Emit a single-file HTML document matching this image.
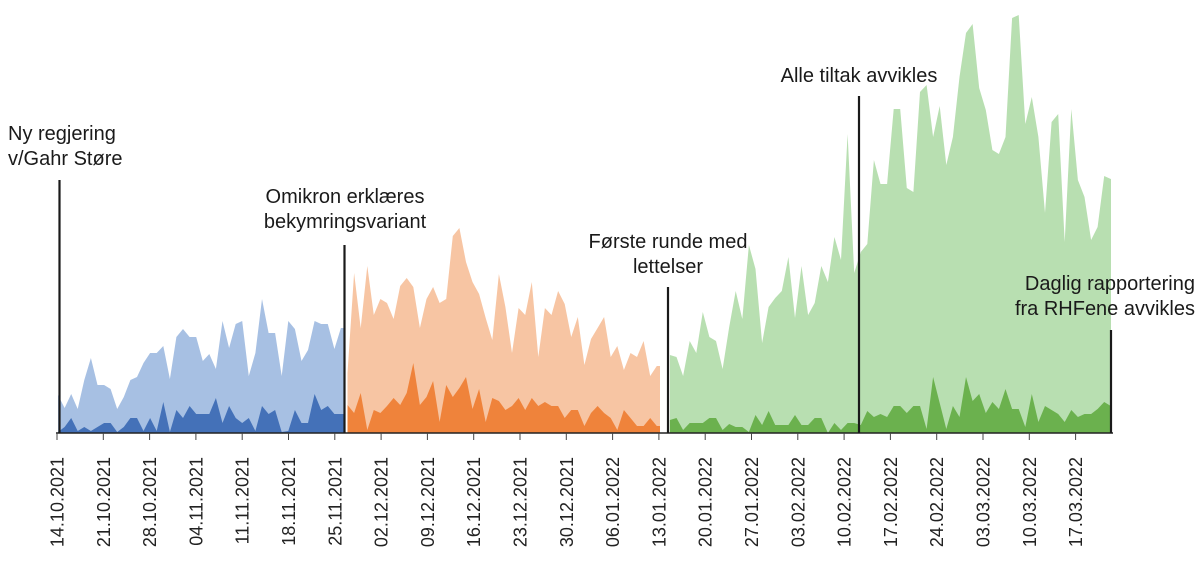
<!DOCTYPE html>
<html><head><meta charset="utf-8"><style>
html,body{margin:0;padding:0;background:#fff;}
svg{display:block;font-family:"Liberation Sans",sans-serif;}
</style></head><body>
<svg id="chart" width="1200" height="565" viewBox="0 0 1200 565" xmlns="http://www.w3.org/2000/svg">
<g id="areas"></g>
<g id="axis"></g>
<g id="annot"></g>
</svg>
<script>
const tickLabels = ["14.10.2021","21.10.2021","28.10.2021","04.11.2021","11.11.2021","18.11.2021","25.11.2021","02.12.2021","09.12.2021","16.12.2021","23.12.2021","30.12.2021","06.01.2022","13.01.2022","20.01.2022","27.01.2022","03.02.2022","10.02.2022","17.02.2022","24.02.2022","03.03.2022","10.03.2022","17.03.2022"];
const blueTotal = [38,25,39,24,53,75,48,48,44,24,36,53,56,70,80,80,87,54,96,104,96,96,72,79,64,112,85,109,112,57,80,134,100,100,57,112,104,72,83,112,109,109,84,105];
const blueSub = [1,6,15,2,6,2,6,10,10,1,6,15,15,2,15,2,31,1,23,15,27,19,19,19,35,10,27,15,10,15,2,27,19,23,1,2,23,10,10,39,23,27,19,19];
const orangeTotal = [60,160,105,167,118,134,130,114,147,155,146,105,134,146,130,134,197,205,171,151,139,115,93,159,126,80,125,118,151,76,125,118,142,129,96,116,68,94,105,116,76,87,63,80,76,92,57,67];
const orangeSub = [28,20,40,3,23,20,27,35,28,40,70,28,36,52,11,48,36,45,56,24,44,11,35,32,23,27,35,23,35,27,31,27,27,15,23,23,7,20,27,20,15,3,23,15,7,7,15,7];
const greenTotal = [78,76,57,92,80,121,96,92,64,106,142,114,188,164,90,126,135,142,176,115,167,118,130,167,151,196,173,299,160,181,189,273,249,249,324,324,245,241,341,348,296,327,268,296,356,400,409,345,323,283,279,296,415,418,309,336,296,220,311,319,191,324,253,236,193,206,257,254];
const greenSub = [13,15,3,10,10,10,15,15,3,9,6,6,1,18,8,22,8,8,8,18,8,8,15,15,0,10,3,10,10,8,22,16,19,16,27,27,20,27,27,4,56,30,4,27,16,56,32,39,20,31,24,44,24,24,6,39,11,27,23,19,11,23,16,19,19,24,31,27];

const NS="http://www.w3.org/2000/svg";
const X0=58, DAY=6.58, BASE=433;
const xDay = d => X0 + d*DAY;
const yVal = v => BASE - v;
const areas=document.getElementById('areas');
function area(vals, startDay, endX, fill, name){
  let pts=[[xDay(startDay),BASE]];
  vals.forEach((v,i)=>pts.push([xDay(startDay+i),yVal(v)]));
  const lx = endX!==null?endX:xDay(startDay+vals.length-1);
  pts.push([lx,yVal(vals[vals.length-1])]);
  pts.push([lx,BASE]);
  const p=document.createElementNS(NS,'polygon');
  p.setAttribute('points',pts.map(q=>q[0].toFixed(1)+','+q[1].toFixed(1)).join(' '));
  p.setAttribute('fill',fill);
  
  
  areas.appendChild(p);
}
area(blueTotal,0,344,'#a7c0e3','blue-total-area');
area(blueSub,0,344,'#4471b8','blue-sub-area');
area(orangeTotal,44,660,'#f7c5a3','orange-total-area');
area(orangeSub,44,660,'#ef833b','orange-sub-area');
area(greenTotal,93,1111,'#b8dfb1','green-total-area');
area(greenSub,93,1111,'#6bb14e','green-sub-area');

const axis=document.getElementById('axis');
const al=document.createElementNS(NS,'line');
al.setAttribute('x1',56);al.setAttribute('x2',1113);al.setAttribute('y1',BASE);al.setAttribute('y2',BASE);
al.setAttribute('stroke','#222');al.setAttribute('stroke-width','1.5');


axis.appendChild(al);
tickLabels.forEach((t,i)=>{
  const x=57+i*46.3;
  const tk=document.createElementNS(NS,'line');
  tk.setAttribute('x1',x);tk.setAttribute('x2',x);tk.setAttribute('y1',BASE);tk.setAttribute('y2',440);
  tk.setAttribute('stroke','#444');tk.setAttribute('stroke-width','1');
  
  
  axis.appendChild(tk);
  const tx=document.createElementNS(NS,'text');
  tx.setAttribute('transform','translate('+(x+6.5)+',457) rotate(-90)');
  tx.setAttribute('text-anchor','end');
  tx.setAttribute('font-size','18');
  tx.setAttribute('fill','#222');
  tx.textContent=t;
  
  
  axis.appendChild(tx);
});

const annot=document.getElementById('annot');
const marks=[
 {x:59.5,y:180,lines:["Ny regjering","v/Gahr Støre"],tx:8,anchor:'start',ty:140},
 {x:344.5,y:245,lines:["Omikron erklæres","bekymringsvariant"],tx:345,anchor:'middle',ty:203},
 {x:668,y:287,lines:["Første runde med","lettelser"],tx:668,anchor:'middle',ty:248},
 {x:859,y:96,lines:["Alle tiltak avvikles"],tx:859,anchor:'middle',ty:82},
 {x:1111,y:330,lines:["Daglig rapportering","fra RHFene avvikles"],tx:1195,anchor:'end',ty:290}
];
marks.forEach(m=>{
  const l=document.createElementNS(NS,'line');
  l.setAttribute('x1',m.x);l.setAttribute('x2',m.x);l.setAttribute('y1',m.y);l.setAttribute('y2',BASE);
  l.setAttribute('stroke','#1a1a1a');l.setAttribute('stroke-width','2.2');
  
  
  annot.appendChild(l);
  m.lines.forEach((s,j)=>{
    const t=document.createElementNS(NS,'text');
    t.setAttribute('x',m.tx);t.setAttribute('y',m.ty+j*25);
    t.setAttribute('text-anchor',m.anchor);t.setAttribute('font-size','20');t.setAttribute('fill','#1a1a1a');
    t.textContent=s;
    
    
    annot.appendChild(t);
  });
});
</script>
</body></html>
